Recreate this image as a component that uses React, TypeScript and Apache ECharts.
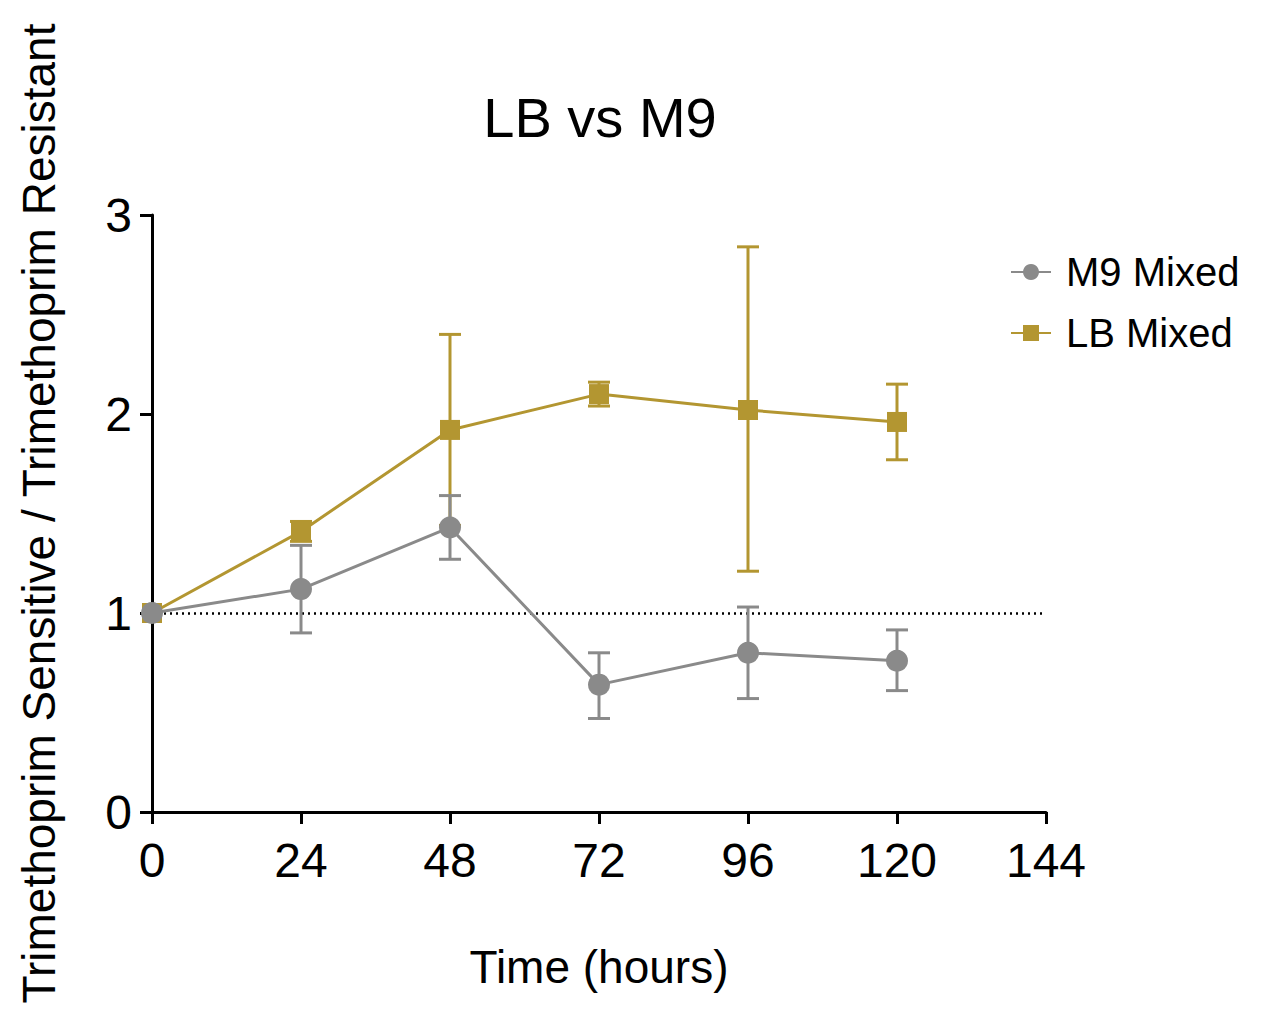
import React, { useEffect, useRef } from "react";
import * as echarts from "echarts";

const hours = [0, 24, 48, 72, 96, 120];
const xTicks = [0, 24, 48, 72, 96, 120, 144];
const yTicks = [0, 1, 2, 3];

const m9Mean = [1.0, 1.12, 1.43, 0.64, 0.8, 0.76];
const m9Upper = [1.0, 1.34, 1.59, 0.8, 1.03, 0.915];
const m9Lower = [1.0, 0.9, 1.27, 0.47, 0.57, 0.61];

const lbMean = [1.0, 1.41, 1.92, 2.1, 2.02, 1.96];
const lbUpper = [1.0, 1.46, 2.4, 2.16, 2.84, 2.15];
const lbLower = [1.0, 1.36, 1.44, 2.04, 1.21, 1.77];

const GRAY = "#8a8a8a";
const GOLD = "#b39631";
const FONT = "Liberation Sans, Arial, Helvetica, sans-serif";

function errorSeries(color: string, upper: number[], lower: number[], z: number) {
  return {
    type: "custom",
    z,
    silent: true,
    data: hours.map((h, i) => [h, upper[i], lower[i]]),
    renderItem: (params: any, api: any) => {
      const x = api.value(0);
      const hi = api.value(1);
      const lo = api.value(2);
      if (hi === lo) return null;
      const p1 = api.coord([x, hi]);
      const p2 = api.coord([x, lo]);
      const cap = 11;
      const st = { stroke: color, lineWidth: 3 };
      return {
        type: "group",
        children: [
          { type: "line", shape: { x1: p1[0], y1: p1[1], x2: p2[0], y2: p2[1] }, style: st },
          { type: "line", shape: { x1: p1[0] - cap, y1: p1[1], x2: p1[0] + cap, y2: p1[1] }, style: st },
          { type: "line", shape: { x1: p2[0] - cap, y1: p2[1], x2: p2[0] + cap, y2: p2[1] }, style: st },
        ],
      };
    },
  };
}

export default function App() {
  const ref = useRef<HTMLDivElement>(null);
  useEffect(() => {
    if (!ref.current) return;
    const chart = echarts.init(ref.current, null, { renderer: "svg" });
    chart.setOption({
      animation: false,
      backgroundColor: "#ffffff",
      graphic: [
        {
          type: "text",
          x: 600,
          y: 117,
          style: {
            text: "LB vs M9",
            textAlign: "center",
            textVerticalAlign: "middle",
            fontSize: 56,
            fontFamily: FONT,
            fill: "#000",
          },
        },
      ],
      legend: {
        data: ["M9 Mixed", "LB Mixed"],
        orient: "vertical",
        left: 1010,
        top: 252,
        padding: 0,
        itemWidth: 40,
        itemHeight: 20,
        itemGap: 21,
        textStyle: { fontSize: 40, fontFamily: FONT, color: "#000", lineHeight: 40, padding: [0, 0, 0, 10] },
      },
      grid: { left: 152, right: 223, top: 215, bottom: 201, containLabel: false, outerBoundsMode: "none" },
      xAxis: {
        type: "value",
        min: 0,
        max: 144,
        interval: 24,
        name: "Time (hours)",
        nameLocation: "middle",
        nameGap: 132,
        nameTextStyle: { fontSize: 46, fontFamily: FONT, color: "#000" },
        axisLine: { show: true, lineStyle: { color: "#000", width: 3 } },
        axisTick: { show: true, length: 12, lineStyle: { color: "#000", width: 3 } },
        axisLabel: {
          fontSize: 48,
          fontFamily: FONT,
          color: "#000",
          margin: 24,
          formatter: (v: number) => (xTicks.includes(v) ? String(v) : ""),
        },
        splitLine: { show: false },
      },
      yAxis: {
        type: "value",
        min: 0,
        max: 3,
        interval: 1,
        name: "Trimethoprim Sensitive / Trimethoprim Resistant",
        nameLocation: "middle",
        nameGap: 90,
        nameTextStyle: { fontSize: 46, fontFamily: FONT, color: "#000" },
        axisLine: { show: true, lineStyle: { color: "#000", width: 3 } },
        axisTick: { show: true, length: 12, lineStyle: { color: "#000", width: 3 } },
        axisLabel: {
          fontSize: 48,
          fontFamily: FONT,
          color: "#000",
          margin: 20,
          formatter: (v: number) => (yTicks.includes(v) ? String(v) : ""),
        },
        splitLine: { show: false },
      },
      series: [
        errorSeries(GOLD, lbUpper, lbLower, 2),
        {
          name: "LB Mixed",
          type: "line",
          z: 3,
          data: hours.map((h, i) => [h, lbMean[i]]),
          symbol: "rect",
          symbolSize: 20,
          itemStyle: { color: GOLD },
          lineStyle: { color: GOLD, width: 3 },
          markLine: {
            silent: true,
            symbol: "none",
            label: { show: false },
            lineStyle: { color: "#000", type: [2, 4], width: 2.5 },
            data: [{ yAxis: 1 }],
            z: 1,
          },
        },
        errorSeries(GRAY, m9Upper, m9Lower, 4),
        {
          name: "M9 Mixed",
          type: "line",
          z: 5,
          data: hours.map((h, i) => [h, m9Mean[i]]),
          symbol: "circle",
          symbolSize: 22,
          itemStyle: { color: GRAY },
          lineStyle: { color: GRAY, width: 3 },
        },
      ],
    });
    return () => chart.dispose();
  }, []);
  return (
    <div
      ref={ref}
      style={{ position: "absolute", left: 0, top: 0, width: 1269, height: 1013 }}
    />
  );
}
